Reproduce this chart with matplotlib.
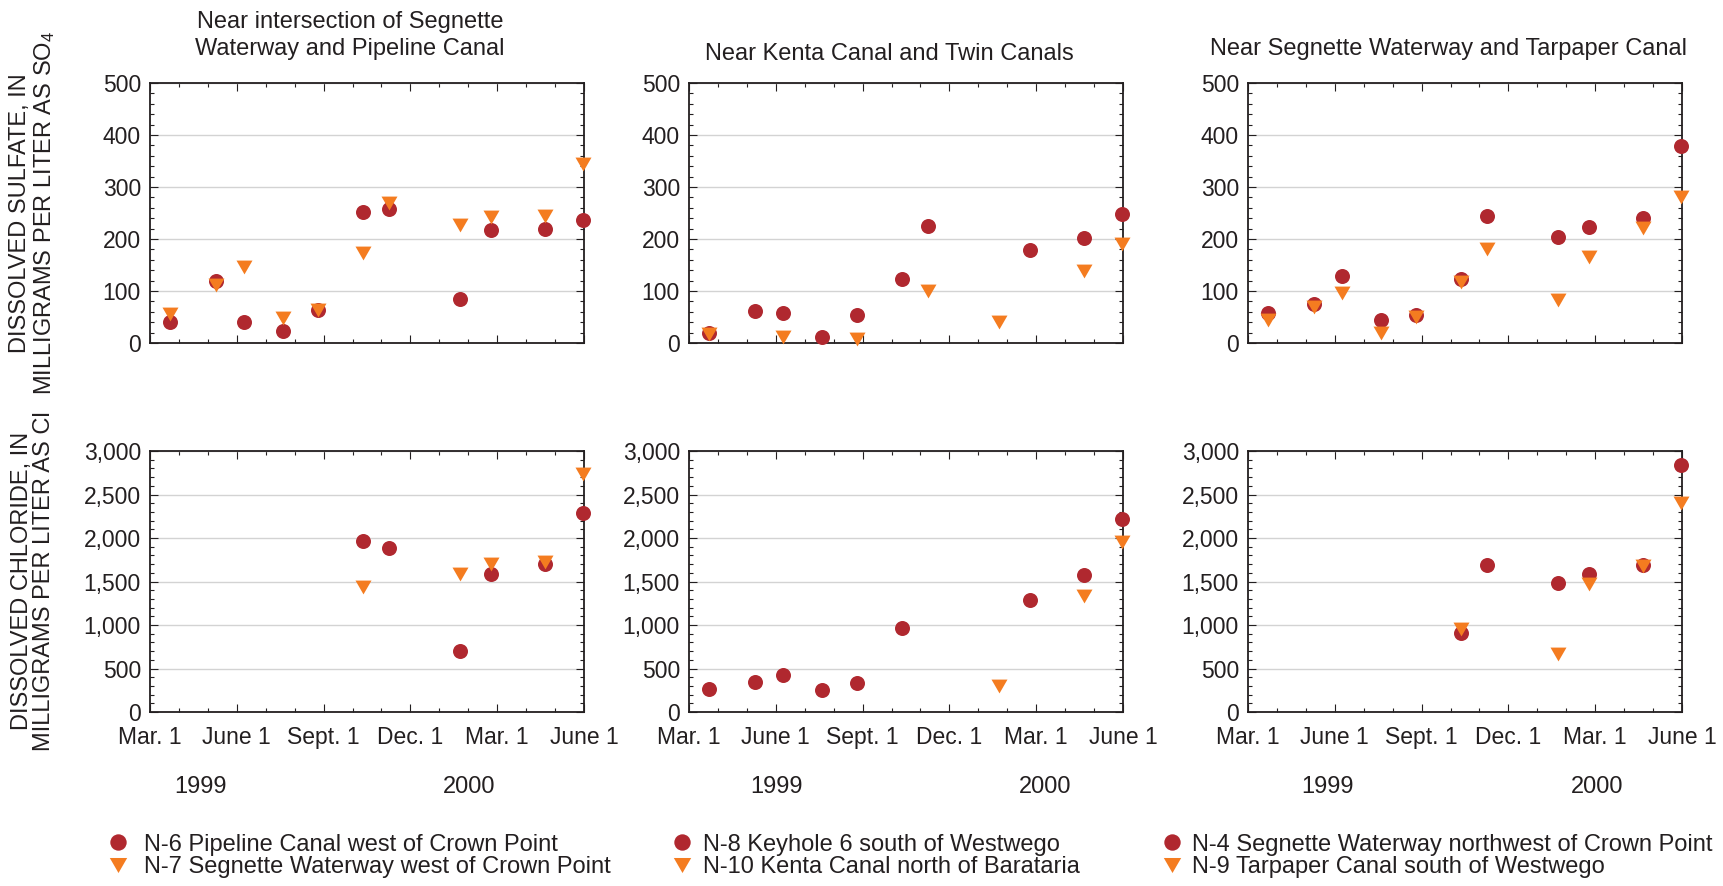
#!/usr/bin/env python
# -*- coding: utf-8 -*-

# Third-party imports
import numpy as np
import matplotlib
matplotlib.use('Agg')
import matplotlib.pyplot as plt
from matplotlib.lines import Line2D
from matplotlib.ticker import FuncFormatter, MultipleLocator

# Constants
WIDTH, HEIGHT = 1724, 886
DPI           = 100
RED           = '#b0282f'
ORANGE        = '#f47c20'
INK           = '#231f20'
GRID          = '#d3d3d3'
TRI_DOWN      = [(-1, 0.866), (1, 0.866), (0, -0.866)]

plt.rcParams['font.family']      = ['Liberation Sans', 'DejaVu Sans']
plt.rcParams['mathtext.fontset'] = 'custom'
plt.rcParams['mathtext.rm']      = 'Liberation Sans'
plt.rcParams['mathtext.default'] = 'regular'
plt.rcParams['text.color']       = INK

nan = np.nan

# Sampling trips, in months after Mar. 1, 1999
sample_month = [0.68, 2.29, 3.24, 4.59, 5.80, 7.35, 8.26, 10.70, 11.78, 13.65, 14.96]
month_ticks  = [0, 3, 6, 9, 12, 15]
month_labels = ['Mar. 1', 'June 1', 'Sept. 1', 'Dec. 1', 'Mar. 1', 'June 1']

# Dissolved sulfate, mg/L as SO4
sulfate_n6  = [40, 120, 40, 23, 64, 251, 258, 84, 217, 219, 237]
sulfate_n7  = [55, 112, 147, 48, 63, 173, 270, 226, 242, 244, 345]
sulfate_n8  = [19, 62, 57, 11, 53, 123, 225, nan, 179, 202, 249]
sulfate_n10 = [17, nan, 12, nan, 8, nan, 100, 40, nan, 139, 190]
sulfate_n4  = [58, 75, 128, 45, 54, 123, 245, 204, 223, 240, 379]
sulfate_n9  = [45, 69, 96, 19, 50, 118, 180, 83, 166, 221, 280]

# Dissolved chloride, mg/L as Cl
chloride_n6  = [nan, nan, nan, nan, nan, 1970, 1890, 700, 1590, 1700, 2290]
chloride_n7  = [nan, nan, nan, nan, nan, 1440, nan, 1590, 1700, 1720, 2730]
chloride_n8  = [260, 345, 430, 255, 334, 965, nan, nan, 1290, 1575, 2215]
chloride_n10 = [nan, nan, nan, nan, nan, nan, nan, 300, nan, 1330, 1950]
chloride_n4  = [nan, nan, nan, nan, nan, 905, 1695, 1485, 1590, 1695, 2840]
chloride_n9  = [nan, nan, nan, nan, nan, 950, nan, 665, 1470, 1675, 2405]

titles = [
    'Near intersection of Segnette\nWaterway and Pipeline Canal',
    'Near Kenta Canal and Twin Canals',
    'Near Segnette Waterway and Tarpaper Canal',
]
circle_sites   = ['N-6 Pipeline Canal west of Crown Point',
                  'N-8 Keyhole 6 south of Westwego',
                  'N-4 Segnette Waterway northwest of Crown Point']
triangle_sites = ['N-7 Segnette Waterway west of Crown Point',
                  'N-10 Kenta Canal north of Barataria',
                  'N-9 Tarpaper Canal south of Westwego']

sulfate  = [(sulfate_n6, sulfate_n7), (sulfate_n8, sulfate_n10), (sulfate_n4, sulfate_n9)]
chloride = [(chloride_n6, chloride_n7), (chloride_n8, chloride_n10), (chloride_n4, chloride_n9)]

# Layout, in pixels of the final image
col_left   = [150, 689, 1248]
col_width  = 434
row_top    = [83, 451]
row_height = [260, 261]
title_y    = [35.5, 54.5, 49.5]
year_x     = [(200, 469), (777, 1045), (1328, 1597)]
legend_x   = [106, 670, 1160]
legend_pad = [0.62, 0.38, 0.34]


def px_rect(left, top, width, height):
    return [left / WIDTH, 1 - (top + height) / HEIGHT, width / WIDTH, height / HEIGHT]


def style_axes(ax, ymax, ymajor, yminor, bottom_row):
    ax.set_xlim(0, 15)
    ax.set_ylim(0, ymax)
    ax.set_xticks(month_ticks)
    ax.xaxis.set_minor_locator(MultipleLocator(1))
    ax.yaxis.set_major_locator(MultipleLocator(ymajor))
    ax.yaxis.set_minor_locator(MultipleLocator(yminor))
    ax.yaxis.set_major_formatter(FuncFormatter(lambda v, p: f'{v:,.0f}'))
    if bottom_row:
        ax.set_xticklabels(month_labels)
    else:
        ax.set_xticklabels([])
    ax.tick_params(which='both', direction='in', top=True, right=True, color=INK, labelcolor=INK)
    ax.tick_params(which='major', length=5.5, width=0.8, labelsize=16.5)
    ax.tick_params(which='minor', length=2.8, width=0.8)
    ax.tick_params(axis='x', pad=10)
    ax.tick_params(axis='y', pad=6.5)
    for s in ax.spines.values():
        s.set_linewidth(1.3)
        s.set_color(INK)
    ax.grid(axis='y', which='major', color=GRID, lw=1.0)
    ax.set_axisbelow(True)


def draw_pair(ax, circles, triangles):
    ax.plot(sample_month, circles, ls='none', marker='o', ms=10.8,
            mfc=RED, mec='none', clip_on=False, zorder=3)
    ax.plot(sample_month, triangles, ls='none', marker=TRI_DOWN, ms=11.5,
            mfc=ORANGE, mec='none', clip_on=False, zorder=4)


fig = plt.figure(figsize=(WIDTH / DPI, HEIGHT / DPI), dpi=DPI)

for i in range(3):
    ax_s = fig.add_axes(px_rect(col_left[i], row_top[0], col_width, row_height[0]))
    ax_c = fig.add_axes(px_rect(col_left[i], row_top[1], col_width, row_height[1]))

    draw_pair(ax_s, *sulfate[i])
    draw_pair(ax_c, *chloride[i])
    style_axes(ax_s, 500, 100, 20, False)
    style_axes(ax_c, 3000, 500, 100, True)

    ax_s.text(0.461, (row_top[0] + row_height[0] - title_y[i]) / row_height[0], titles[i],
              transform=ax_s.transAxes, ha='center', va='center', fontsize=17, linespacing=1.32)

    for yx, year in zip(year_x[i], ['1999', '2000']):
        ax_c.text((yx - col_left[i]) / col_width, -0.287, year, transform=ax_c.transAxes,
                  ha='center', va='center', fontsize=17)

    handles = [
        Line2D([], [], ls='none', marker='o', ms=11.8, mfc=RED, mec='none'),
        Line2D([], [], ls='none', marker=TRI_DOWN, ms=12.5, mfc=ORANGE, mec='none'),
    ]
    fig.legend(handles, [circle_sites[i], triangle_sites[i]], loc='center left',
               bbox_to_anchor=(legend_x[i] / WIDTH, 1 - 856 / HEIGHT), frameon=False,
               handlelength=1.0, handletextpad=legend_pad[i], labelspacing=0.02,
               borderpad=0, borderaxespad=0, fontsize=17)

# Shared axis labels on the left
fig.text(33 / WIDTH, 1 - 213 / HEIGHT,
         'DISSOLVED SULFATE, IN\nMILLIGRAMS PER LITER AS SO$_4$',
         rotation=90, ha='center', va='center', fontsize=17, linespacing=1.05)
fig.text(33 / WIDTH, 1 - 581 / HEIGHT,
         'DISSOLVED CHLORIDE, IN\nMILLIGRAMS PER LITER AS Cl',
         rotation=90, ha='center', va='center', fontsize=17, linespacing=1.05)

fig.savefig('out.png', dpi=DPI)
